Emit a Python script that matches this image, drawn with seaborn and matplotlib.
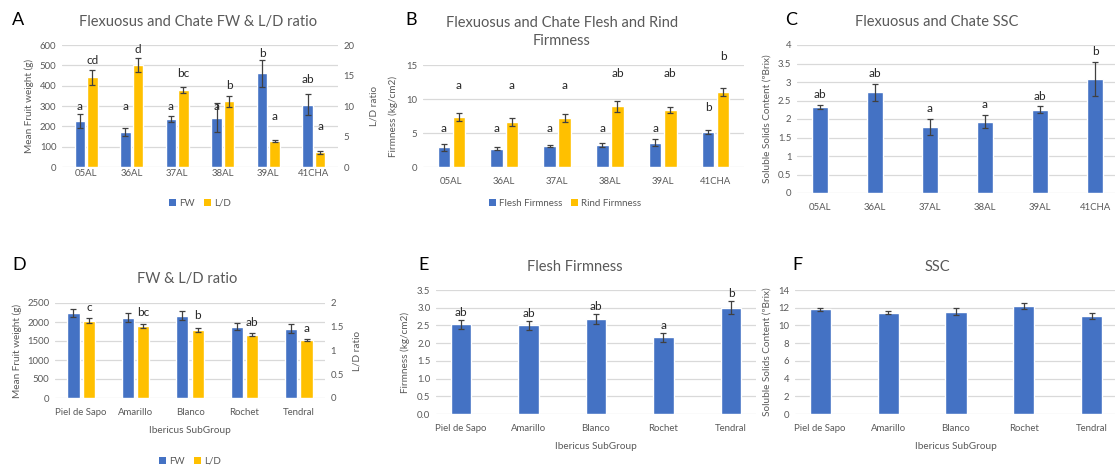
import matplotlib
matplotlib.use("Agg")
import matplotlib.pyplot as plt
import numpy as np
import pandas as pd
import seaborn as sns
from matplotlib.patches import Patch

sns.set_theme(style="white")
plt.rcParams['font.family'] = ['Lato', 'DejaVu Sans']

BLUE = "#4472C4"
GOLD = "#FFC000"
GRID = "#D9D9D9"
TXT = "#595959"
ERR = "#404040"
LET = "#262626"

W, H = 1115, 468

# ---- Flexuosus and Chate accessions ----
lines = ["05AL", "36AL", "37AL", "38AL", "39AL", "41CHA"]

fw_flex = [225, 173, 238, 243, 460, 307]
fw_flex_err = [35, 20, 15, 70, 65, 50]
ld_flex = [14.7, 16.7, 12.6, 10.8, 4.3, 2.4]
ld_flex_err = [1.2, 1.1, 0.5, 0.9, 0.2, 0.3]
fw_flex_sig = ["a", "a", "a", "a", "b", "ab"]
ld_flex_sig = ["cd", "d", "bc", "b", "a", "a"]

flesh_flex = [2.9, 2.7, 3.1, 3.3, 3.6, 5.2]
flesh_flex_err = [0.5, 0.2, 0.2, 0.3, 0.5, 0.3]
rind_flex = [7.4, 6.6, 7.2, 8.9, 8.4, 11.0]
rind_flex_err = [0.6, 0.6, 0.6, 0.8, 0.4, 0.6]
flesh_flex_sig = ["a", "a", "a", "a", "a", "b"]
rind_flex_sig = ["a", "a", "a", "ab", "ab", "b"]

ssc_flex = [2.33, 2.72, 1.78, 1.93, 2.25, 3.08]
ssc_flex_err = [0.06, 0.22, 0.22, 0.17, 0.09, 0.47]
ssc_flex_sig = ["ab", "ab", "a", "a", "ab", "b"]

# ---- Ibericus subgroups ----
subgroups = ["Piel de Sapo", "Amarillo", "Blanco", "Rochet", "Tendral"]

fw_iber = [2230, 2110, 2160, 1880, 1820]
fw_iber_err = [100, 120, 120, 90, 120]
ld_iber = [1.63, 1.52, 1.43, 1.33, 1.22]
ld_iber_err = [0.05, 0.04, 0.05, 0.03, 0.03]
ld_iber_sig = ["c", "bc", "b", "ab", "a"]

flesh_iber = [2.53, 2.50, 2.67, 2.16, 3.00]
flesh_iber_err = [0.12, 0.12, 0.14, 0.13, 0.18]
flesh_iber_sig = ["ab", "ab", "ab", "a", "b"]

ssc_iber = [11.8, 11.45, 11.55, 12.2, 11.05]
ssc_iber_err = [0.2, 0.2, 0.4, 0.3, 0.3]

# heights (data units) at which the significance letters sit
fw_flex_sig_y = [300, 300, 300, 300, 560, 428]
ld_flex_sig_y = [17.5, 19.2, 15.4, 13.3, 8.2, 6.6]
flesh_flex_sig_y = [5.7, 5.7, 5.7, 5.7, 5.7, 8.7]
rind_flex_sig_y = [12.0, 12.0, 12.0, 13.8, 13.8, 16.2]
ld_iber_sig_y = [1.90, 1.79, 1.73, 1.60, 1.47]


fig = plt.figure(figsize=(W / 100, H / 100), dpi=100)


def rect(x0, y0, x1, y1):
    return [x0 / W, 1 - y1 / H, (x1 - x0) / W, (y1 - y0) / H]


def style(ax, ymax, step, fmt="{:g}", grid=True, xpad=4):
    ax.set_ylim(0, ymax)
    ticks = np.arange(0, ymax + step / 2, step)
    ax.set_yticks(ticks)
    ax.set_yticklabels([fmt.format(t) for t in ticks])
    for s in ax.spines.values():
        s.set_visible(False)
    ax.tick_params(axis="both", length=0, labelsize=6.9, labelcolor=TXT, pad=4)
    ax.tick_params(axis="x", pad=xpad)
    if grid:
        ax.grid(axis="y", color=GRID, lw=0.9)
        ax.set_axisbelow(True)
    else:
        ax.grid(False)
    ax.set_xlabel("")
    ax.set_ylabel("")


def bars_of(ax):
    return [c for c in ax.containers if len(c)][0]


def errbars(ax, container, vals, errs):
    xs = [b.get_x() + b.get_width() / 2 for b in container]
    ax.errorbar(xs, vals, yerr=errs, fmt="none", ecolor=ERR, elinewidth=0.9,
                capsize=2.2, capthick=0.9, zorder=5)
    return xs


def letters(ax, xs, ys, labels, size=8.5):
    for x, y, t in zip(xs, ys, labels):
        ax.text(x, y, t, ha="center", va="center", fontsize=size, color=LET,
                clip_on=False, zorder=6)


def paired(ax, cats, names, v1, e1, v2, e2, width, gap):
    df1 = pd.DataFrame({"cat": cats, "series": names[0], "value": v1})
    df2 = pd.DataFrame({"cat": cats, "series": names[1], "value": v2})
    sns.barplot(data=df1, x="cat", y="value", hue="series", hue_order=names,
                order=cats, palette=[BLUE, GOLD], width=width, gap=gap,
                dodge=True, errorbar=None, saturation=1, legend=False, ax=ax)
    ax2 = ax.twinx()
    sns.barplot(data=df2, x="cat", y="value", hue="series", hue_order=names,
                order=cats, palette=[BLUE, GOLD], width=width, gap=gap,
                dodge=True, errorbar=None, saturation=1, legend=False, ax=ax2)
    x1 = errbars(ax, bars_of(ax), v1, e1)
    x2 = errbars(ax2, bars_of(ax2), v2, e2)
    return ax2, x1, x2


def single(ax, cats, vals, errs, width):
    df = pd.DataFrame({"cat": cats, "value": vals})
    sns.barplot(data=df, x="cat", y="value", order=cats, color=BLUE,
                width=width, errorbar=None, saturation=1, ax=ax)
    return errbars(ax, bars_of(ax), vals, errs)


def legend(items, cx, cy):
    handles = [Patch(facecolor=c, edgecolor="none", label=l) for l, c in items]
    fig.legend(handles=handles, loc="center", bbox_to_anchor=(cx / W, 1 - cy / H),
               ncol=len(items), frameon=False, fontsize=7, labelcolor=TXT,
               handlelength=0.75, handleheight=0.75, handletextpad=0.3,
               columnspacing=0.9, borderpad=0)


def title(text, cx, cy, size=10.5):
    fig.text(cx / W, 1 - cy / H, text, ha="center", va="center", fontsize=size,
             color=TXT, linespacing=1.45)


def tag(text, x, y):
    fig.text(x / W, 1 - y / H, text, ha="left", va="center", fontsize=13,
             color="black")


# ---------------- A ----------------
axA = fig.add_axes(rect(62, 45, 338, 167))
axA2, xa1, xa2 = paired(axA, lines, ["FW", "L/D"], fw_flex, fw_flex_err,
                        ld_flex, ld_flex_err, 0.55, 0.16)
style(axA, 600, 100, xpad=1.5)
style(axA2, 20, 5, grid=False, xpad=1.5)
axA.set_ylabel("Mean Fruit weight (g)", fontsize=7.2, color=TXT, labelpad=4)
axA2.set_ylabel("L/D ratio", fontsize=7.2, color=TXT, labelpad=11)
letters(axA, xa1, fw_flex_sig_y, fw_flex_sig)
letters(axA2, xa2, ld_flex_sig_y, ld_flex_sig)
legend([("FW", BLUE), ("L/D", GOLD)], 200, 203)
title("Flexuosus and Chate FW & L/D ratio", 198, 22)
tag("A", 12, 20)

# ---------------- B ----------------
axB = fig.add_axes(rect(423, 65, 744, 167))
dfB = pd.DataFrame({
    "cat": lines * 2,
    "series": ["Flesh Firmness"] * len(lines) + ["Rind Firmness"] * len(lines),
    "value": flesh_flex + rind_flex,
})
sns.barplot(data=dfB, x="cat", y="value", hue="series", order=lines,
            palette=[BLUE, GOLD], width=0.57, gap=0.18, errorbar=None,
            saturation=1, legend=False, ax=axB)
xb1 = errbars(axB, axB.containers[0], flesh_flex, flesh_flex_err)
xb2 = errbars(axB, axB.containers[1], rind_flex, rind_flex_err)
style(axB, 15, 5, xpad=7.5)
axB.set_ylabel("Firmness (kg/cm2)", fontsize=7.2, color=TXT, labelpad=6)
letters(axB, xb1, flesh_flex_sig_y, flesh_flex_sig)
letters(axB, xb2, rind_flex_sig_y, rind_flex_sig)
legend([("Flesh Firmness", BLUE), ("Rind Firmness", GOLD)], 565, 203)
title("Flexuosus and Chate Flesh and Rind\nFirmness", 562, 32)
tag("B", 405, 20)

# ---------------- C ----------------
axC = fig.add_axes(rect(797, 45, 1118, 193))
xc = single(axC, lines, ssc_flex, ssc_flex_err, 0.3)
style(axC, 4, 0.5, xpad=7.5)
axC.set_ylabel("Soluble Solids Content (ºBrix)", fontsize=7.2, color=TXT,
               labelpad=5)
letters(axC, xc, [v + e + 0.28 for v, e in zip(ssc_flex, ssc_flex_err)],
        ssc_flex_sig)
title("Flexuosus and Chate SSC", 937, 22)
tag("C", 785, 20)

# ---------------- D ----------------
axD = fig.add_axes(rect(55, 303, 325, 398))
axD2, xd1, xd2 = paired(axD, subgroups, ["FW", "L/D"], fw_iber, fw_iber_err,
                        ld_iber, ld_iber_err, 0.57, 0.21)
style(axD, 2500, 500, xpad=7.5)
style(axD2, 2, 0.5, grid=False, xpad=7.5)
axD.set_ylabel("Mean Fruit weight (g)", fontsize=7.2, color=TXT, labelpad=4)
axD2.set_ylabel("L/D ratio", fontsize=7.2, color=TXT, labelpad=6)
axD.set_xlabel("Ibericus SubGroup", fontsize=7.2, color=TXT, labelpad=6)
letters(axD2, xd2, ld_iber_sig_y, ld_iber_sig)
legend([("FW", BLUE), ("L/D", GOLD)], 190, 461)
title("FW & L/D ratio", 187, 279)
tag("D", 12, 265)

# ---------------- E ----------------
axE = fig.add_axes(rect(436, 290, 756, 414))
xe = single(axE, subgroups, flesh_iber, flesh_iber_err, 0.31)
style(axE, 3.5, 0.5, fmt="{:.1f}", xpad=7)
axE.set_ylabel("Firmness (kg/cm2)", fontsize=7.2, color=TXT, labelpad=5)
axE.set_xlabel("Ibericus SubGroup", fontsize=7.2, color=TXT, labelpad=7)
letters(axE, xe, [v + e + 0.22 for v, e in zip(flesh_iber, flesh_iber_err)],
        flesh_iber_sig)
title("Flesh Firmness", 575, 267)
tag("E", 418, 265)

# ---------------- F ----------------
axF = fig.add_axes(rect(795, 290, 1117, 414))
single(axF, subgroups, ssc_iber, ssc_iber_err, 0.31)
style(axF, 14, 2, xpad=7)
axF.set_ylabel("Soluble Solids Content (ºBrix)", fontsize=7.2, color=TXT,
               labelpad=5)
axF.set_xlabel("Ibericus SubGroup", fontsize=7.2, color=TXT, labelpad=7)
title("SSC", 937, 267)
tag("F", 792, 265)

fig.savefig("out.png", dpi=100, facecolor="white")
